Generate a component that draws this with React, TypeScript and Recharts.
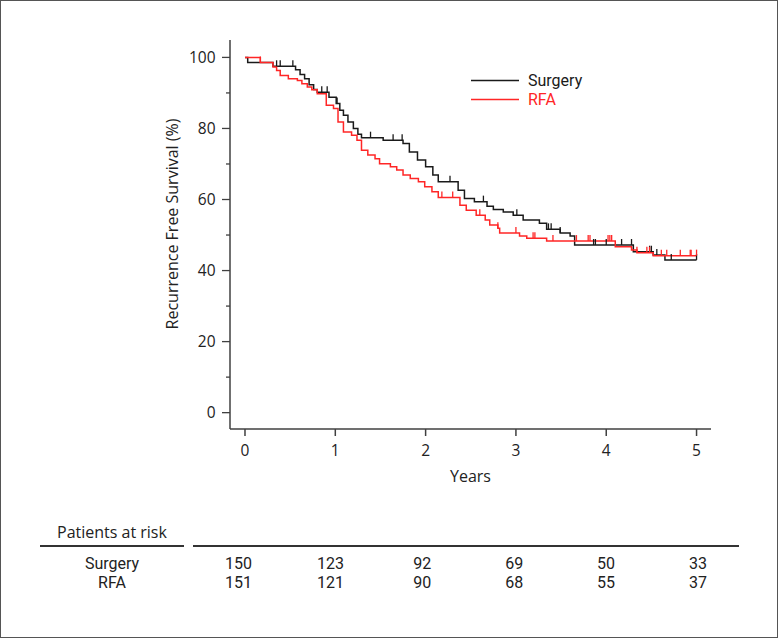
import { ComposedChart, Line, Scatter, XAxis, YAxis } from "recharts";

// Kaplan-Meier steps: [years, survival %]
const surgerySteps: [number, number][] = [
  [0, 100], [0.03, 98.6], [0.31, 97.5], [0.56, 96.5], [0.61, 95.2], [0.66, 94],
  [0.71, 92.3], [0.76, 91], [0.8, 90.2], [0.93, 88.8], [1.01, 87], [1.05, 85.1],
  [1.09, 83.7], [1.14, 81.8], [1.2, 80], [1.25, 78.4], [1.29, 77.4], [1.53, 76.7],
  [1.75, 75.8], [1.82, 73.4], [1.91, 71.1], [2.0, 69.2], [2.08, 66.9], [2.14, 65],
  [2.36, 62.6], [2.43, 60.3], [2.54, 59.4], [2.68, 58.1], [2.75, 57.2], [2.86, 56.5],
  [2.97, 55.6], [3.08, 54.2], [3.26, 53.3], [3.34, 51.6], [3.49, 50.6], [3.6, 49.7],
  [3.65, 47.2], [4.3, 45.3], [4.52, 44.4], [4.65, 43], [5.0, 43],
];
const rfaSteps: [number, number][] = [
  [0, 100], [0.17, 98.6], [0.31, 97.3], [0.35, 96.3], [0.39, 94.9], [0.48, 94],
  [0.58, 93.5], [0.63, 92.6], [0.69, 91.7], [0.74, 90.9], [0.8, 89.8], [0.9, 86.5],
  [0.98, 85.6], [1.03, 81.8], [1.09, 79], [1.18, 78.1], [1.24, 76.7], [1.29, 73.9],
  [1.36, 72.5], [1.44, 71.5], [1.49, 70.1], [1.61, 69.2], [1.68, 68.3], [1.75, 66.9],
  [1.83, 65.9], [1.92, 65], [1.99, 63.6], [2.07, 62.2], [2.14, 60.6], [2.38, 58.4],
  [2.45, 57], [2.56, 55.6], [2.66, 54.2], [2.71, 52.8], [2.8, 51.9], [2.82, 50.6],
  [3.04, 49.7], [3.12, 49.1], [3.34, 48.3], [4.1, 46.7], [4.28, 45.8], [4.34, 45],
  [4.52, 44.2], [5.0, 44.2],
];

// censored observations (years)
const surgeryCensor = [
  0.35, 0.39, 0.53, 0.85, 0.91, 1.02, 1.39, 1.64, 1.74, 2.27, 2.64, 3.01, 3.36,
  3.39, 3.49, 3.86, 3.88, 4.0, 4.17, 4.28, 4.48, 4.5, 4.56, 4.72, 5.0,
];
const rfaCensor = [
  0.17, 2.18, 2.3, 2.6, 2.8, 3.0, 3.19, 3.21, 3.41, 3.67, 3.8, 3.82, 4.02, 4.04,
  4.06, 4.34, 4.45, 4.48, 4.61, 4.67, 4.82, 4.93, 4.94, 5.0,
];

const years = [0, 1, 2, 3, 4, 5];
const yTicks = [0, 10, 20, 30, 40, 50, 60, 70, 80, 90, 100];
const riskGroups = ["Surgery", "RFA"];
const riskSurgery = [150, 123, 92, 69, 50, 33];
const riskRfa = [151, 121, 90, 68, 55, 37];

const BLACK = "#1a1a1a";
const RED = "#ff2626";
const AXIS = "#404040";
const FONT = "'Open Sans', 'DejaVu Sans', sans-serif";
const TABLE_FONT = "Roboto, 'Liberation Sans', sans-serif";

const toPoints = (steps: [number, number][]) => steps.map(([t, s]) => ({ t, s }));
const survivalAt = (steps: [number, number][], t: number) => {
  let s = steps[0][1];
  for (const [st, sv] of steps) if (st <= t) s = sv;
  return s;
};
const toCensor = (steps: [number, number][], times: number[]) =>
  times.map((t) => ({ t, s: survivalAt(steps, t) }));

const surgeryData = toPoints(surgerySteps);
const rfaData = toPoints(rfaSteps);
const surgeryCensorData = toCensor(surgerySteps, surgeryCensor);
const rfaCensorData = toCensor(rfaSteps, rfaCensor);

const censorMark = (color: string) => (p: any) =>
  <line x1={p.cx} x2={p.cx} y1={p.cy} y2={p.cy - 6} stroke={color} strokeWidth={1.3} />;

const YTick = (p: any) => {
  const v = p.payload.value;
  const major = v % 20 === 0;
  return (
    <g>
      <line x1={p.x - (major ? 8 : 4)} x2={p.x} y1={p.y} y2={p.y} stroke={AXIS} strokeWidth={1.3} />
      {major && (
        <text x={p.x - 14.5} y={p.y} dy="0.36em" textAnchor="end" fontSize={15.5} fill="#222" fontFamily={FONT}>
          {v}
        </text>
      )}
    </g>
  );
};

const XTick = (p: any) => (
  <g>
    <line x1={p.x} x2={p.x} y1={p.y} y2={p.y + 7} stroke={AXIS} strokeWidth={1.5} />
    <text x={p.x} y={p.y + 27} textAnchor="middle" fontSize={15.5} fill="#222" fontFamily={FONT}>
      {p.payload.value}
    </text>
  </g>
);

const riskX = (i: number) => 238.5 + i * 91.9;
const cell = { position: "absolute" as const, fontSize: 16, lineHeight: "18px", textAlign: "center" as const, fontFamily: TABLE_FONT };

export default function App() {
  return (
    <div style={{ position: "absolute", left: 0, top: 0, width: 779, height: 640, background: "#fff", fontFamily: FONT, color: "#222" }}>
      <div style={{ position: "absolute", left: 0, top: 0, width: 778, height: 638, boxSizing: "border-box", border: "1px solid #555" }} />
      <div style={{ position: "absolute", left: 0, top: 0 }}>
        <ComposedChart width={778} height={500} margin={{ top: 40, right: 67, left: 150, bottom: 11 }}>
          <XAxis
            dataKey="t"
            type="number"
            domain={[-0.166, 5.16]}
            ticks={years}
            allowDataOverflow
            tickLine={false}
            tickSize={0}
            tickMargin={0}
            tick={<XTick />}
            axisLine={{ stroke: AXIS, strokeWidth: 1.5 }}
            height={60}
            label={(props: any) => (
              <text x={props.viewBox.x + props.viewBox.width / 2} y={props.viewBox.y + 47} dy="0.35em" textAnchor="middle" fontSize={16} fill="#222" fontFamily={FONT}>
                Years
              </text>
            )}
          />
          <YAxis
            dataKey="s"
            type="number"
            domain={[-4.6, 104.9]}
            ticks={yTicks}
            allowDataOverflow
            interval={0}
            tickLine={false}
            tickSize={0}
            tickMargin={0}
            tick={<YTick />}
            axisLine={{ stroke: AXIS, strokeWidth: 1.5 }}
            width={80}
            label={(props: any) => (
              <text
                x={props.viewBox.x + 22}
                y={224}
                transform={`rotate(-90, ${props.viewBox.x + 22}, 224)`}
                textAnchor="middle"
                dominantBaseline="central"
                fontSize={16}
                fill="#222"
                fontFamily={FONT}
              >
                Recurrence Free Survival (%)
              </text>
            )}
          />
          <Line data={surgeryData} dataKey="s" type="stepAfter" stroke={BLACK} strokeWidth={1.5} dot={false} isAnimationActive={false} />
          <Line data={rfaData} dataKey="s" type="stepAfter" stroke={RED} strokeWidth={1.5} dot={false} isAnimationActive={false} />
          <Scatter data={surgeryCensorData} dataKey="s" shape={censorMark(BLACK)} isAnimationActive={false} />
          <Scatter data={rfaCensorData} dataKey="s" shape={censorMark(RED)} isAnimationActive={false} />
        </ComposedChart>
      </div>

      {/* legend */}
      <svg style={{ position: "absolute", left: 0, top: 0 }} width={779} height={120}>
        <line x1={471} x2={519} y1={80.5} y2={80.5} stroke={BLACK} strokeWidth={1.5} />
        <line x1={471} x2={519} y1={99.5} y2={99.5} stroke={RED} strokeWidth={1.5} />
        <text x={528} y={80.5} dy="0.35em" fontSize={16} fill={BLACK} fontFamily={TABLE_FONT}>Surgery</text>
        <text x={528} y={99.5} dy="0.35em" fontSize={16} fill={RED} fontFamily={TABLE_FONT}>RFA</text>
      </svg>

      {/* patients at risk */}
      <div style={{ position: "absolute", left: 57, top: 523, fontSize: 16, lineHeight: "18px", whiteSpace: "nowrap" }}>Patients at risk</div>
      <div style={{ position: "absolute", left: 40, top: 545, width: 144, height: 1.5, background: "#333" }} />
      <div style={{ position: "absolute", left: 193, top: 545, width: 546, height: 1.5, background: "#333" }} />
      {[riskSurgery, riskRfa].map((row, r) => (
        <div key={riskGroups[r]}>
          <div style={{ ...cell, left: 62, width: 100, top: 555 + r * 19 }}>{riskGroups[r]}</div>
          {row.map((n, i) => (
            <div key={i} style={{ ...cell, left: riskX(i) - 30, width: 60, top: 555 + r * 19 }}>
              {n}
            </div>
          ))}
        </div>
      ))}
    </div>
  );
}
